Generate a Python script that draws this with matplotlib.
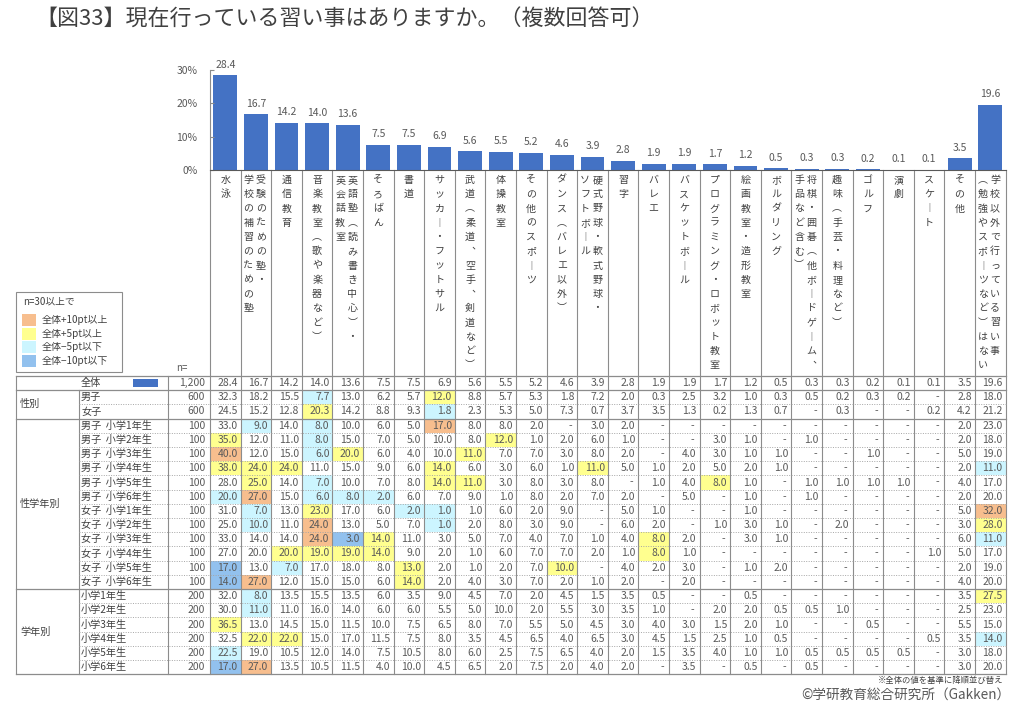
import matplotlib
matplotlib.use("Agg")
import matplotlib.pyplot as plt
from matplotlib.patches import Rectangle

plt.rcParams['font.family'] = ['Noto Sans CJK JP', 'DejaVu Sans']

# ---- data ----
categories = [
    "水泳", "受験のための塾・\n学校の補習のための塾", "通信教育", "音楽教室（歌や楽器など）",
    "英語塾（読み書き中心）・\n英会話教室", "そろばん", "書道", "サッカー・フットサル",
    "武道（柔道、空手、剣道など）", "体操教室", "その他のスポーツ", "ダンス（バレエ以外）",
    "硬式野球・軟式野球・\nソフトボール", "習字", "バレエ", "バスケットボール",
    "プログラミング・ロボット教室", "絵画教室・造形教室", "ボルダリング",
    "将棋・囲碁（他ボードゲーム、\n手品など含む）", "趣味（手芸・料理など）", "ゴルフ", "演劇",
    "スケート", "その他", "学校以外で行っている習い事\n（勉強やスポーツなど）はない",
]
overall = [28.4, 16.7, 14.2, 14.0, 13.6, 7.5, 7.5, 6.9, 5.6, 5.5, 5.2, 4.6, 3.9,
           2.8, 1.9, 1.9, 1.7, 1.2, 0.5, 0.3, 0.3, 0.2, 0.1, 0.1, 3.5, 19.6]

_ = None
boys = [32.3, 18.2, 15.5, 7.7, 13.0, 6.2, 5.7, 12.0, 8.8, 5.7, 5.3, 1.8, 7.2, 2.0, 0.3, 2.5, 3.2, 1.0, 0.3, 0.5, 0.2, 0.3, 0.2, _, 2.8, 18.0]
girls = [24.5, 15.2, 12.8, 20.3, 14.2, 8.8, 9.3, 1.8, 2.3, 5.3, 5.0, 7.3, 0.7, 3.7, 3.5, 1.3, 0.2, 1.3, 0.7, _, 0.3, _, _, 0.2, 4.2, 21.2]

boys_g1 = [33.0, 9.0, 14.0, 8.0, 10.0, 6.0, 5.0, 17.0, 8.0, 8.0, 2.0, _, 3.0, 2.0, _, _, _, _, _, _, _, _, _, _, 2.0, 23.0]
boys_g2 = [35.0, 12.0, 11.0, 8.0, 15.0, 7.0, 5.0, 10.0, 8.0, 12.0, 1.0, 2.0, 6.0, 1.0, _, _, 3.0, 1.0, _, 1.0, _, _, _, _, 2.0, 18.0]
boys_g3 = [40.0, 12.0, 15.0, 6.0, 20.0, 6.0, 4.0, 10.0, 11.0, 7.0, 7.0, 3.0, 8.0, 2.0, _, 4.0, 3.0, 1.0, 1.0, _, _, 1.0, _, _, 5.0, 19.0]
boys_g4 = [38.0, 24.0, 24.0, 11.0, 15.0, 9.0, 6.0, 14.0, 6.0, 3.0, 6.0, 1.0, 11.0, 5.0, 1.0, 2.0, 5.0, 2.0, 1.0, _, _, _, _, _, 2.0, 11.0]
boys_g5 = [28.0, 25.0, 14.0, 7.0, 10.0, 7.0, 8.0, 14.0, 11.0, 3.0, 8.0, 3.0, 8.0, _, 1.0, 4.0, 8.0, 1.0, _, 1.0, 1.0, 1.0, 1.0, _, 4.0, 17.0]
boys_g6 = [20.0, 27.0, 15.0, 6.0, 8.0, 2.0, 6.0, 7.0, 9.0, 1.0, 8.0, 2.0, 7.0, 2.0, _, 5.0, _, 1.0, _, 1.0, _, _, _, _, 2.0, 20.0]
girls_g1 = [31.0, 7.0, 13.0, 23.0, 17.0, 6.0, 2.0, 1.0, 1.0, 6.0, 2.0, 9.0, _, 5.0, 1.0, _, _, 1.0, _, _, _, _, _, _, 5.0, 32.0]
girls_g2 = [25.0, 10.0, 11.0, 24.0, 13.0, 5.0, 7.0, 1.0, 2.0, 8.0, 3.0, 9.0, _, 6.0, 2.0, _, 1.0, 3.0, 1.0, _, 2.0, _, _, _, 3.0, 28.0]
girls_g3 = [33.0, 14.0, 14.0, 24.0, 3.0, 14.0, 11.0, 3.0, 5.0, 7.0, 4.0, 7.0, 1.0, 4.0, 8.0, 2.0, _, 3.0, 1.0, _, _, _, _, _, 6.0, 11.0]
girls_g4 = [27.0, 20.0, 20.0, 19.0, 19.0, 14.0, 9.0, 2.0, 1.0, 6.0, 7.0, 7.0, 2.0, 1.0, 8.0, 1.0, _, _, _, _, _, _, _, 1.0, 5.0, 17.0]
girls_g5 = [17.0, 13.0, 7.0, 17.0, 18.0, 8.0, 13.0, 2.0, 1.0, 2.0, 7.0, 10.0, _, 4.0, 2.0, 3.0, _, 1.0, 2.0, _, _, _, _, _, 2.0, 19.0]
girls_g6 = [14.0, 27.0, 12.0, 15.0, 15.0, 6.0, 14.0, 2.0, 4.0, 3.0, 7.0, 2.0, 1.0, 2.0, _, 2.0, _, _, _, _, _, _, _, _, 4.0, 20.0]

grade1 = [32.0, 8.0, 13.5, 15.5, 13.5, 6.0, 3.5, 9.0, 4.5, 7.0, 2.0, 4.5, 1.5, 3.5, 0.5, _, _, 0.5, _, _, _, _, _, _, 3.5, 27.5]
grade2 = [30.0, 11.0, 11.0, 16.0, 14.0, 6.0, 6.0, 5.5, 5.0, 10.0, 2.0, 5.5, 3.0, 3.5, 1.0, _, 2.0, 2.0, 0.5, 0.5, 1.0, _, _, _, 2.5, 23.0]
grade3 = [36.5, 13.0, 14.5, 15.0, 11.5, 10.0, 7.5, 6.5, 8.0, 7.0, 5.5, 5.0, 4.5, 3.0, 4.0, 3.0, 1.5, 2.0, 1.0, _, _, 0.5, _, _, 5.5, 15.0]
grade4 = [32.5, 22.0, 22.0, 15.0, 17.0, 11.5, 7.5, 8.0, 3.5, 4.5, 6.5, 4.0, 6.5, 3.0, 4.5, 1.5, 2.5, 1.0, 0.5, _, _, _, _, 0.5, 3.5, 14.0]
grade5 = [22.5, 19.0, 10.5, 12.0, 14.0, 7.5, 10.5, 8.0, 6.0, 2.5, 7.5, 6.5, 4.0, 2.0, 1.5, 3.5, 4.0, 1.0, 1.0, 0.5, 0.5, 0.5, 0.5, _, 3.0, 18.0]
grade6 = [17.0, 27.0, 13.5, 10.5, 11.5, 4.0, 10.0, 4.5, 6.5, 2.0, 7.5, 2.0, 4.0, 2.0, _, 3.5, _, 0.5, _, 0.5, _, _, _, _, 3.0, 20.0]

grades = ["小学1年生", "小学2年生", "小学3年生", "小学4年生", "小学5年生", "小学6年生"]
row_labels = (["全体", "男子", "女子"] + ["男子  " + g for g in grades]
              + ["女子  " + g for g in grades] + grades)
row_n = [1200, 600, 600] + [100] * 12 + [200] * 6
groups = [("性別", 1, 3), ("性学年別", 3, 15), ("学年別", 15, 21)]
rows = [overall, boys, girls, boys_g1, boys_g2, boys_g3, boys_g4, boys_g5, boys_g6,
        girls_g1, girls_g2, girls_g3, girls_g4, girls_g5, girls_g6,
        grade1, grade2, grade3, grade4, grade5, grade6]

legend_labels = ["全体+10pt以上", "全体+5pt以上", "全体−5pt以下", "全体−10pt以下"]

# ---- style ----
BAR = "#4472C4"
TXT = "#404040"
NUM = "#595959"
LINE = "#8C8C8C"
ORANGE, YELLOW, CYAN, BLUE = "#F7BE8E", "#FFFF8F", "#CCF5FF", "#92C1EE"
VMAP = {"（": "︵", "）": "︶", "ー": "︱", "、": "︑"}

W, H = 1024, 701
X0, X1 = 210.0, 1005.5
CW = (X1 - X0) / len(overall)
Y30, Y0 = 70.0, 170.0
T, RH = 376.0, 14.2
TB = T + RH * len(rows)
XL, XG, XN = 16.0, 79.0, 168.0


def cell_colour(v, base):
    if v is None:
        return None
    d = round(v - base, 1)
    if d >= 10:
        return ORANGE
    if d >= 5:
        return YELLOW
    if d <= -10:
        return BLUE
    if d <= -5:
        return CYAN
    return None


fig = plt.figure(figsize=(W / 100, H / 100), dpi=100)
ov = fig.add_axes([0, 0, 1, 1])
ov.set_xlim(0, W)
ov.set_ylim(H, 0)
ov.axis("off")

ov.text(35, 20, "【図33】現在行っている習い事はありますか。（複数回答可）",
        fontsize=15.8, color=TXT, ha="left", va="center")

# bar chart
ax = fig.add_axes([X0 / W, 1 - Y0 / H, (X1 - X0) / W, (Y0 - Y30) / H])
ax.patch.set_alpha(0)
bars = ax.bar(range(len(overall)), overall, width=0.78, color=BAR)
ax.bar_label(bars, fmt="%.1f", padding=4, fontsize=7.5, color=NUM)
ax.set_xlim(-0.5, len(overall) - 0.5)
ax.set_ylim(0, 30)
ax.set_xticks([])
ax.set_yticks([0, 10, 20, 30])
ax.set_yticklabels(["0%", "10%", "20%", "30%"])
ax.tick_params(axis="y", direction="in", length=3, labelsize=7.5,
               labelcolor=NUM, color=LINE, pad=9)
for s in ("top", "right"):
    ax.spines[s].set_visible(False)
ax.spines["left"].set_color(LINE)
ax.spines["bottom"].set_color("#595959")

# vertical category labels (right column first, as in Japanese vertical writing)
LY, LS = 180.0, 14.25
for i, lab in enumerate(categories):
    cx = X0 + CW * (i + 0.5)
    cols = lab.split("\n")
    offs = [0.0] if len(cols) == 1 else [4.8, -7.4]
    for s, dx in zip(cols, offs):
        for k, ch in enumerate(s):
            ov.text(cx + dx, LY + k * LS, VMAP.get(ch, ch), ha="center", va="center",
                    fontsize=7.2, color=TXT)

# table: highlighted cells
for r, row in enumerate(rows):
    if r == 0:
        continue
    for i, v in enumerate(row):
        c = cell_colour(v, overall[i])
        if c:
            ov.add_patch(Rectangle((X0 + CW * i, T + RH * r), CW, RH, facecolor=c,
                                   edgecolor="none", zorder=1))

# table lines
for k in range(len(overall) + 1):
    ov.plot([X0 + CW * k] * 2, [Y0, TB], color=LINE, lw=0.8, zorder=2)
for x in (XL, XN):
    ov.plot([x, x], [T, TB], color=LINE, lw=0.8, zorder=2)
ov.plot([XG, XG], [T + RH, TB], color=LINE, lw=0.8, zorder=2)
solid = {0, 1, 3, 15, len(rows)}
for k in range(len(rows) + 1):
    y = T + RH * k
    if k in solid:
        ov.plot([XL, X1], [y, y], color=LINE, lw=0.9, zorder=2)
    else:
        ov.plot([XG, X1], [y, y], color="#A6A6A6", lw=0.7, ls=(0, (1, 1.5)), zorder=2)

# table text
for r, row in enumerate(rows):
    yc = T + RH * (r + 0.5)
    ov.text(81, yc, row_labels[r], ha="left", va="center", fontsize=7.3, color=TXT)
    ov.text(XN + 37, yc, f"{row_n[r]:,}", ha="right", va="center", fontsize=7.5, color=NUM)
    for i, v in enumerate(row):
        xr = X0 + CW * (i + 1) - 3
        s = "-" if v is None else f"{v:.1f}"
        ov.text(xr - (2 if v is None else 0), yc, s, ha="right", va="center",
                fontsize=7.5, color=NUM, zorder=3)
ov.add_patch(Rectangle((133, T + RH * 0.5 - 4), 25, 8, facecolor=BAR, edgecolor="none"))
for name, a, b in groups:
    ov.text(20, T + RH * (a + b) / 2, name, ha="left", va="center", fontsize=7.3, color=TXT)
ov.text(176, 368, "n=", ha="left", va="center", fontsize=7, color=NUM)

# legend box
ov.add_patch(Rectangle((XL, 292), 106, 80, facecolor="white", edgecolor=LINE, lw=0.8))
ov.text(23, 302, "n=30以上で", ha="left", va="center", fontsize=7, color=TXT)
for k, (lab, c) in enumerate(zip(legend_labels, [ORANGE, YELLOW, CYAN, BLUE])):
    y = 320 + k * 13.7
    ov.add_patch(Rectangle((22, y - 6), 14, 12, facecolor=c, edgecolor="none"))
    ov.text(42, y, lab, ha="left", va="center", fontsize=7.2, color=TXT)

# footer
ov.text(1003, 681, "※全体の値を基準に降順並び替え", ha="right", va="center",
        fontsize=6, color=TXT)
ov.text(1010, 695, "©学研教育総合研究所（Gakken）", ha="right", va="center",
        fontsize=9.8, color=NUM)

fig.savefig("out.png", dpi=100)
